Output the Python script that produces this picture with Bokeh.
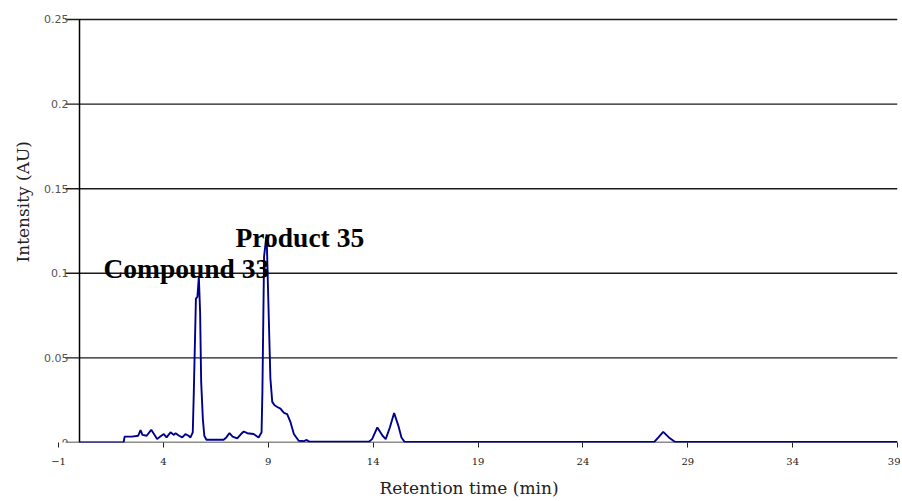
from bokeh.plotting import figure
from bokeh.models import Range1d, FixedTicker, Label, Title
from bokeh.embed import file_html
from bokeh.resources import INLINE

# Data
time_min = [0.0, 2.1, 2.15, 2.5, 2.8, 2.91, 3.0, 3.2, 3.42, 3.55, 3.7, 3.85, 4.02, 4.15,
            4.34, 4.5, 4.58, 4.75, 4.9, 5.05, 5.2, 5.29, 5.4, 5.45, 5.55, 5.62, 5.69,
            5.75, 5.8, 5.88, 5.95, 6.05, 6.87, 7.0, 7.15, 7.3, 7.52, 7.7, 7.83, 8.0,
            8.3, 8.54, 8.68, 8.72, 8.8, 8.92, 9.0, 9.1, 9.19, 9.3, 9.43, 9.58, 9.75,
            9.9, 10.06, 10.22, 10.45, 10.7, 10.83, 10.95, 13.8, 13.95, 14.2, 14.45,
            14.6, 14.8, 15.0, 15.2, 15.35, 15.5, 27.4, 27.6, 27.83, 28.1, 28.4, 39.0]
intensity = [0.0, 0.0, 0.0035, 0.0035, 0.004, 0.0073, 0.0045, 0.004, 0.0075, 0.005,
             0.002, 0.0035, 0.005, 0.003, 0.006, 0.0045, 0.0055, 0.004, 0.003, 0.005,
             0.004, 0.003, 0.006, 0.03, 0.085, 0.086, 0.098, 0.077, 0.036, 0.014, 0.004,
             0.0016, 0.0016, 0.003, 0.0056, 0.0035, 0.0025, 0.005, 0.0065, 0.0055,
             0.005, 0.003, 0.006, 0.03, 0.11, 0.123, 0.085, 0.038, 0.024, 0.022, 0.021,
             0.02, 0.0175, 0.0168, 0.012, 0.005, 0.001, 0.0008, 0.0015, 0.0005,
             0.0005, 0.002, 0.0089, 0.004, 0.002, 0.009, 0.0174, 0.01, 0.003, 0.0003,
             0.0003, 0.003, 0.0063, 0.003, 0.0003, 0.0003]

x_ticks = [-1, 4, 9, 14, 19, 24, 29, 34, 39]
y_ticks = [0, 0.05, 0.1, 0.15, 0.2, 0.25]
y_tick_labels = {0: "0", 0.05: "0.05", 0.1: "0.1", 0.15: "0.15", 0.2: "0.2", 0.25: "0.25"}
x_start, x_end = -1.86, 39
y_start, y_top, y_end = 0, 0.25, 0.2565
y_axis_at = 0
tick_len = 0.667  # length of the y tick marks, in minutes

p = figure(width=900, height=501, output_backend="svg", toolbar_location=None,
           x_range=Range1d(x_start, x_end), y_range=Range1d(y_start, y_end),
           min_border_left=40, min_border_right=3, min_border_top=8, min_border_bottom=59)
p.outline_line_color = None
p.background_fill_color = "white"
p.xgrid.grid_line_color = None
p.ygrid.grid_line_color = None

# horizontal gridlines (with their tick marks) starting left of the y axis
n = len(y_ticks)
p.segment(x0=[y_axis_at - tick_len] * n, y0=y_ticks, x1=[x_end] * n, y1=y_ticks,
          line_color="#1a1a1a", line_width=1.4)
# y axis line
p.segment(x0=[y_axis_at], y0=[y_start], x1=[y_axis_at], y1=[y_top],
          line_color="black", line_width=1.5)

p.line(time_min, intensity, line_color="#00008B", line_width=1.9)

# X axis
p.xaxis.ticker = FixedTicker(ticks=x_ticks)
p.xaxis.axis_line_color = None
p.xaxis.major_tick_out = 5
p.xaxis.major_tick_in = 0
p.xaxis.major_tick_line_color = "#222222"
p.xaxis.minor_tick_line_color = None
p.xaxis.major_label_text_font = "DejaVu Serif"
p.xaxis.major_label_text_font_size = "10px"
p.xaxis.major_label_text_color = "#222222"
p.xaxis.major_label_standoff = 10
p.xaxis.axis_label = "Retention time (min)"
p.xaxis.axis_label_text_font = "DejaVu Serif"
p.xaxis.axis_label_text_font_size = "17px"
p.xaxis.axis_label_text_font_style = "normal"
p.xaxis.axis_label_text_color = "#222222"
p.xaxis.axis_label_standoff = 10

# Y axis labels drawn at x = 0
p.yaxis.fixed_location = y_axis_at
p.yaxis.ticker = FixedTicker(ticks=y_ticks)
p.yaxis.major_label_overrides = y_tick_labels
p.yaxis.axis_line_color = None
p.yaxis.major_tick_out = 14
p.yaxis.major_tick_in = 0
p.yaxis.major_tick_line_color = None
p.yaxis.minor_tick_line_color = None
p.yaxis.major_label_text_font = "DejaVu Sans"
p.yaxis.major_label_text_font_size = "11px"
p.yaxis.major_label_text_color = "#555555"
p.yaxis.major_label_standoff = -3

# Y axis title
p.add_layout(Title(text="Intensity (AU)", text_font="DejaVu Serif", text_font_size="17px",
                   text_font_style="normal", text_color="#222222", align="left",
                   offset=180, standoff=16), "left")

# Peak annotations
p.add_layout(Label(x=1.14, y=0.1028, text="Compound 33", text_font="Liberation Serif",
                   text_font_size="27.5px", text_font_style="bold", text_color="black",
                   text_baseline="alphabetic"))
p.add_layout(Label(x=7.44, y=0.1212, text="Product 35", text_font="Liberation Serif",
                   text_font_size="27.5px", text_font_style="bold", text_color="black",
                   text_baseline="alphabetic"))

open("out.html", "w").write(file_html(p, INLINE))
